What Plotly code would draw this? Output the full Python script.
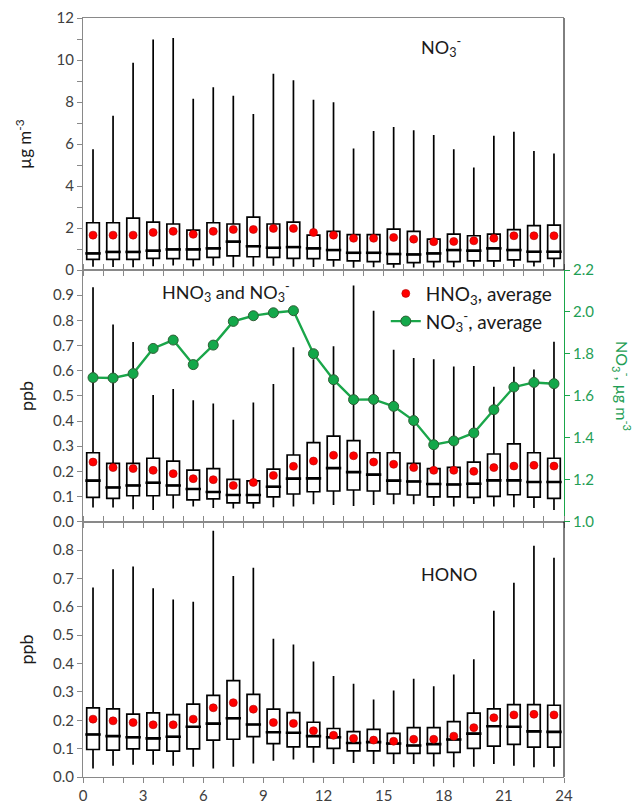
import plotly.graph_objects as go

# Hour-of-day bins (centres)
hours = [h + 0.5 for h in range(24)]

# Particulate nitrate (ug m-3): box statistics and hourly mean
no3_upper = [5.75, 7.34, 9.87, 10.98, 11.05, 8.15, 8.70, 8.30, 7.43, 9.35, 9.03, 8.11,
             7.99, 5.78, 6.62, 6.81, 6.66, 6.43, 5.75, 4.88, 6.39, 6.58, 5.67, 5.55]
no3_q3 = [2.25, 2.25, 2.47, 2.28, 2.19, 1.90, 2.25, 2.19, 2.52, 2.19, 2.28, 1.66,
          1.84, 1.68, 1.68, 1.95, 1.84, 1.47, 1.71, 1.63, 1.71, 1.92, 2.11, 2.14]
no3_median = [0.79, 0.86, 0.86, 0.92, 0.98, 0.98, 1.03, 1.35, 1.13, 1.06, 1.09, 1.03,
              0.95, 0.82, 0.82, 0.76, 0.74, 0.79, 0.95, 0.92, 1.03, 0.95, 0.87, 0.87]
no3_q1 = [0.51, 0.51, 0.51, 0.55, 0.54, 0.51, 0.60, 0.67, 0.63, 0.60, 0.55, 0.54,
          0.48, 0.43, 0.40, 0.29, 0.35, 0.40, 0.40, 0.43, 0.43, 0.48, 0.40, 0.55]
no3_lower = [0.16, 0.14, 0.13, 0.18, 0.22, 0.17, 0.20, 0.13, 0.17, 0.20, 0.16, 0.14,
             0.15, 0.11, 0.13, 0.11, 0.12, 0.12, 0.13, 0.15, 0.14, 0.14, 0.17, 0.13]
no3_mean = [1.66, 1.66, 1.66, 1.79, 1.84, 1.70, 1.84, 1.93, 1.93, 1.98, 1.98, 1.79,
            1.66, 1.51, 1.51, 1.55, 1.47, 1.35, 1.36, 1.39, 1.51, 1.63, 1.63, 1.63]

# Nitric acid (ppb): box statistics and hourly mean
hno3_upper = [0.931, 0.783, 0.714, 0.503, 0.527, 0.483, 0.470, 0.405, 0.474, 0.547, 0.693, 0.645,
              0.697, 0.938, 0.838, 0.683, 0.650, 0.645, 0.617, 0.619, 0.536, 0.616, 0.605, 0.715]
hno3_q3 = [0.274, 0.232, 0.232, 0.252, 0.241, 0.205, 0.211, 0.168, 0.162, 0.209, 0.265, 0.314,
           0.340, 0.322, 0.274, 0.274, 0.232, 0.211, 0.216, 0.237, 0.269, 0.309, 0.274, 0.252]
hno3_median = [0.163, 0.136, 0.144, 0.155, 0.144, 0.130, 0.118, 0.106, 0.106, 0.139, 0.171, 0.172,
               0.213, 0.197, 0.187, 0.163, 0.160, 0.150, 0.148, 0.151, 0.164, 0.164, 0.158, 0.158]
hno3_q1 = [0.097, 0.093, 0.103, 0.103, 0.106, 0.087, 0.091, 0.075, 0.075, 0.099, 0.110, 0.119,
           0.122, 0.126, 0.122, 0.110, 0.106, 0.099, 0.099, 0.097, 0.101, 0.107, 0.098, 0.093]
hno3_lower = [0.056, 0.056, 0.049, 0.046, 0.052, 0.060, 0.054, 0.052, 0.052, 0.057, 0.060, 0.069,
              0.066, 0.062, 0.066, 0.069, 0.069, 0.062, 0.060, 0.070, 0.060, 0.057, 0.054, 0.046]
hno3_mean = [0.237, 0.215, 0.211, 0.204, 0.191, 0.171, 0.167, 0.144, 0.156, 0.184, 0.220, 0.241,
             0.264, 0.262, 0.237, 0.228, 0.215, 0.204, 0.204, 0.200, 0.215, 0.221, 0.224, 0.221]

# Nitrate hourly average on the secondary axis (ug m-3)
no3_avg = [1.687, 1.685, 1.706, 1.826, 1.866, 1.749, 1.842, 1.955, 1.982, 1.996, 2.006, 1.801,
           1.677, 1.582, 1.583, 1.550, 1.482, 1.367, 1.385, 1.423, 1.534, 1.642, 1.664, 1.658]

# Nitrous acid (ppb): box statistics and hourly mean
hono_upper = [0.668, 0.732, 0.742, 0.665, 0.626, 0.618, 0.868, 0.709, 0.738, 0.487, 0.467, 0.407,
              0.356, 0.329, 0.273, 0.305, 0.346, 0.320, 0.361, 0.415, 0.586, 0.685, 0.815, 0.773]
hono_q3 = [0.244, 0.240, 0.222, 0.226, 0.220, 0.257, 0.288, 0.340, 0.291, 0.239, 0.227, 0.193,
           0.171, 0.160, 0.168, 0.154, 0.174, 0.174, 0.195, 0.225, 0.240, 0.255, 0.255, 0.253]
hono_median = [0.150, 0.144, 0.140, 0.136, 0.142, 0.177, 0.188, 0.207, 0.185, 0.158, 0.156, 0.144,
               0.140, 0.120, 0.123, 0.118, 0.111, 0.116, 0.132, 0.153, 0.179, 0.177, 0.161, 0.159]
hono_q1 = [0.097, 0.095, 0.099, 0.095, 0.091, 0.099, 0.130, 0.133, 0.142, 0.118, 0.106, 0.106,
           0.101, 0.092, 0.092, 0.083, 0.083, 0.083, 0.087, 0.101, 0.109, 0.115, 0.105, 0.105]
hono_lower = [0.030, 0.040, 0.043, 0.043, 0.040, 0.036, 0.030, 0.036, 0.048, 0.057, 0.062, 0.050,
              0.046, 0.049, 0.046, 0.046, 0.046, 0.037, 0.034, 0.036, 0.046, 0.040, 0.034, 0.036]
hono_mean = [0.204, 0.198, 0.192, 0.184, 0.184, 0.204, 0.244, 0.262, 0.239, 0.192, 0.189, 0.163,
             0.147, 0.136, 0.130, 0.126, 0.133, 0.133, 0.144, 0.174, 0.209, 0.219, 0.221, 0.219]

hour_ticks = [0, 3, 6, 9, 12, 15, 18, 21, 24]

FONT = "Lato"
AXIS_GREY = "#898989"
LABEL_GREY = "#404040"
GREEN = "#1aa64a"
GREEN_TXT = "#1f9e55"
RED = "#ff0000"


def box(xa, ya, lower, q1, med, q3, upper):
    return go.Box(
        x=hours, q1=q1, median=med, q3=q3, lowerfence=lower, upperfence=upper,
        xaxis=xa, yaxis=ya, width=0.63, whiskerwidth=0,
        fillcolor="white", line=dict(color="black", width=1.7),
        boxpoints=False, hoverinfo="skip", showlegend=False,
    )


def median_bar(xa, ya, med):
    # heavier stroke for the median inside each box
    return go.Scatter(
        x=hours, y=med, xaxis=xa, yaxis=ya, mode="markers", hoverinfo="skip",
        marker=dict(symbol="line-ew", size=11, line=dict(color="black", width=2.6)),
        showlegend=False,
    )


def means(xa, ya, vals, name=None, legend=False):
    return go.Scatter(
        x=hours, y=vals, xaxis=xa, yaxis=ya, mode="markers", name=name,
        marker=dict(size=8, color=RED, line=dict(color="#b00000", width=0.6)),
        showlegend=legend,
    )


fig = go.Figure()
fig.add_trace(box("x", "y", no3_lower, no3_q1, no3_median, no3_q3, no3_upper))
fig.add_trace(median_bar("x", "y", no3_median))
fig.add_trace(means("x", "y", no3_mean))

fig.add_trace(box("x2", "y2", hno3_lower, hno3_q1, hno3_median, hno3_q3, hno3_upper))
fig.add_trace(median_bar("x2", "y2", hno3_median))
fig.add_trace(means("x2", "y2", hno3_mean, "HNO<sub>3</sub>, average", True))
fig.add_trace(go.Scatter(
    x=hours, y=no3_avg, xaxis="x2", yaxis="y3", mode="lines+markers",
    name="NO<sub>3</sub><sup>-</sup>, average",
    line=dict(color=GREEN, width=2.4),
    marker=dict(size=10, color="#13a84a", line=dict(color="#2f5f36", width=1)),
))

fig.add_trace(box("x3", "y4", hono_lower, hono_q1, hono_median, hono_q3, hono_upper))
fig.add_trace(median_bar("x3", "y4", hono_median))
fig.add_trace(means("x3", "y4", hono_mean))

tickfont = dict(family=FONT, size=15, color=LABEL_GREY)
xcommon = dict(range=[0, 24], showgrid=False, zeroline=False, showline=True,
               linecolor=AXIS_GREY, linewidth=1, ticks="outside", ticklen=5,
               tickcolor=AXIS_GREY, tickwidth=1, automargin=False)
ycommon = dict(showgrid=False, zeroline=False, showline=True, linecolor=AXIS_GREY,
               linewidth=1, ticks="outside", ticklen=5, tickcolor=AXIS_GREY,
               tickfont=tickfont, automargin=False)

d3 = 255.3 / 759
d2 = (777 - 270) / 759


def panel_label(text, xref, yref, x, y):
    return dict(text=text, xref=xref, yref=yref, x=x, y=y, xanchor="center",
                yanchor="middle", showarrow=False, font=dict(family=FONT, size=18))


def side_title(text, yref, x, y, angle, size=17, color="#1a1a1a"):
    return dict(text=text, xref="paper", yref=yref, x=x, y=y, xanchor="center",
                yanchor="middle", textangle=angle, showarrow=False,
                font=dict(family=FONT, size=size, color=color))


fig.update_layout(
    template="none",
    width=636, height=804,
    margin=dict(l=83, r=72, t=18, b=27, autoexpand=False),
    paper_bgcolor="white", plot_bgcolor="white",
    font=dict(family=FONT, color="#1a1a1a"),
    xaxis=dict(**xcommon, anchor="y", dtick=1, showticklabels=False, mirror=True),
    yaxis=dict(**ycommon, domain=[d2, 1], range=[0, 12], dtick=2, tickformat="d",
               minor=dict(dtick=1, ticks="outside", ticklen=5, tickcolor=AXIS_GREY)),
    xaxis2=dict(**xcommon, anchor="y2", dtick=1, showticklabels=False, mirror="ticks"),
    yaxis2=dict(**ycommon, domain=[d3, d2], range=[0, 1.0],
                tickvals=[i / 10 for i in range(10)], tickformat=".1f"),
    yaxis3=dict(overlaying="y2", side="right", anchor="x2", range=[1.0, 2.2],
                dtick=0.2, tickformat=".1f", showgrid=False, zeroline=False,
                showline=True, linecolor=GREEN, linewidth=1.2, ticks="outside",
                ticklen=5, tickcolor=GREEN, automargin=False,
                tickfont=dict(family=FONT, size=15, color=GREEN_TXT)),
    xaxis3=dict(**xcommon, anchor="y4", tickvals=hour_ticks, mirror="ticks",
                tickfont=tickfont,
                minor=dict(dtick=1, ticks="outside", ticklen=5, tickcolor=AXIS_GREY)),
    yaxis4=dict(**ycommon, domain=[0, d3], range=[0, 0.9],
                tickvals=[i / 10 for i in range(9)], tickformat=".1f"),
    legend=dict(x=0.985, xanchor="right", y=0.662, yanchor="top",
                bgcolor="rgba(0,0,0,0)", font=dict(family=FONT, size=19, color="#1a1a1a"),
                tracegroupgap=0, itemwidth=30),
    shapes=[
        dict(type="line", xref="x domain", yref="y domain", x0=1, x1=1, y0=0, y1=1,
             line=dict(color="black", width=1)),
        dict(type="line", xref="x3 domain", yref="y4 domain", x0=1, x1=1, y0=0, y1=1,
             line=dict(color="black", width=1)),
    ],
    annotations=[
        panel_label("NO<sub>3</sub><sup>-</sup>", "x domain", "y domain", 0.744, 0.885),
        panel_label("HNO<sub>3</sub> and NO<sub>3</sub><sup>-</sup>", "x2 domain",
                    "y2 domain", 0.297, 0.913),
        panel_label("HONO", "x3 domain", "y4 domain", 0.76, 0.795),
        side_title("µg m<sup>-3</sup>", "y domain", -0.125, 0.5, -90),
        side_title("ppb", "y2 domain", -0.118, 0.5, -90, size=18),
        side_title("ppb", "y4 domain", -0.118, 0.5, -90, size=18),
        side_title("NO<sub>3</sub><sup>-</sup>, µg m<sup>-3</sup>", "y2 domain",
                   1.12, 0.54, 90, size=16, color=GREEN_TXT),
    ],
)

fig.write_html("out.html")
